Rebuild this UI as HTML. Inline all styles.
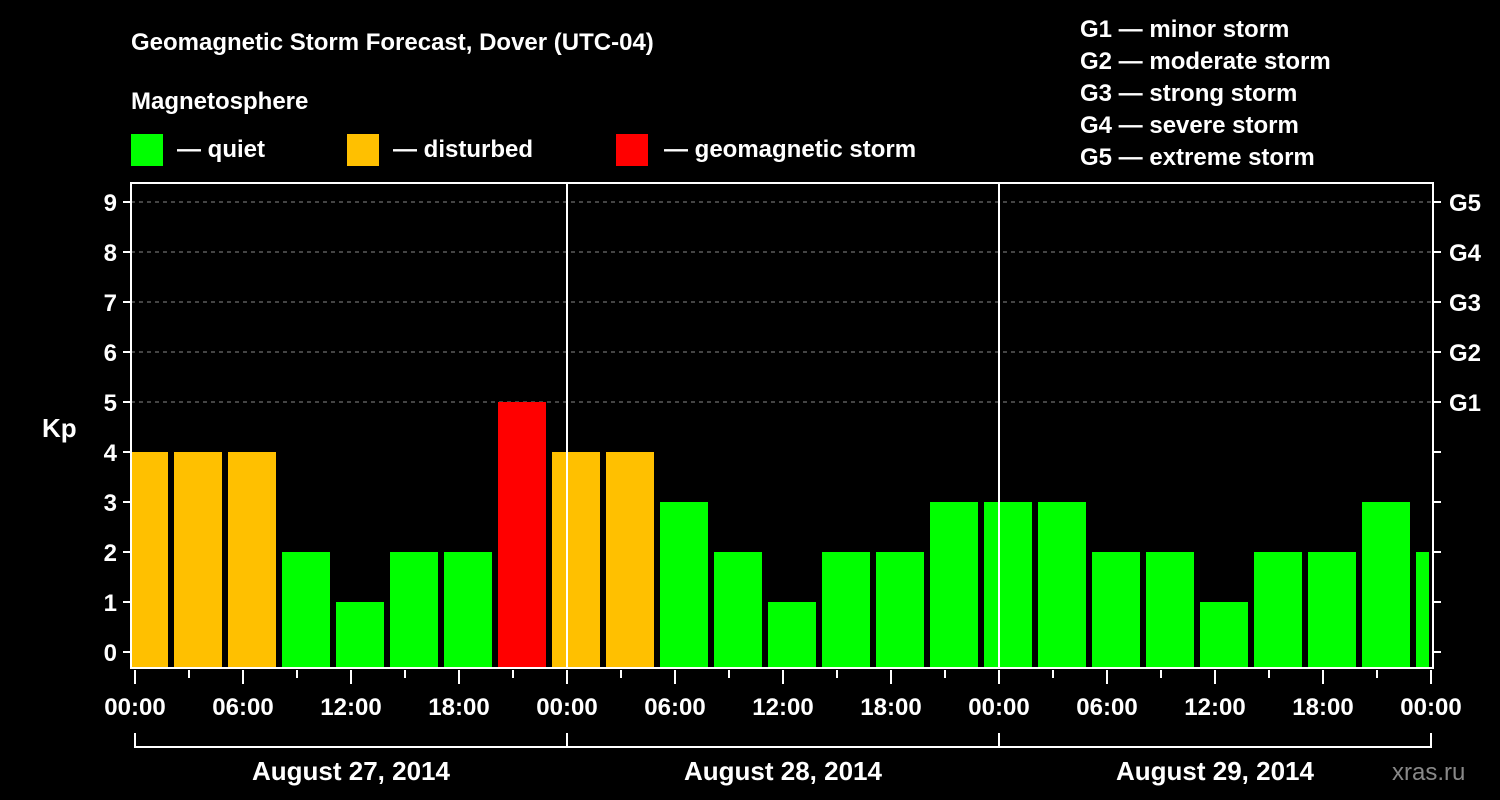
<!DOCTYPE html>
<html><head><meta charset="utf-8"><style>
body{margin:0;background:#000;width:1500px;height:800px;overflow:hidden}
svg{display:block;font-family:"Liberation Sans",sans-serif;font-weight:bold}
</style></head><body>
<svg id="c" width="1500" height="800">
<rect width="1500" height="800" fill="#000"/>
<text x="131" y="50" fill="#fff" font-size="24">Geomagnetic Storm Forecast, Dover (UTC-04)</text>
<text x="131" y="109" fill="#fff" font-size="24">Magnetosphere</text>
<g><rect x="131" y="134" width="32" height="32" fill="#00ff00"/><text x="177" y="157" fill="#fff" font-size="24">— quiet</text></g>
<g><rect x="347" y="134" width="32" height="32" fill="#ffc000"/><text x="393" y="157" fill="#fff" font-size="24">— disturbed</text></g>
<g><rect x="616" y="134" width="32" height="32" fill="#ff0000"/><text x="664" y="157" fill="#fff" font-size="24">— geomagnetic storm</text></g>
<g fill="#fff" font-size="24">
<text x="1080" y="37">G1 — minor storm</text>
<text x="1080" y="69">G2 — moderate storm</text>
<text x="1080" y="101">G3 — strong storm</text>
<text x="1080" y="133">G4 — severe storm</text>
<text x="1080" y="165">G5 — extreme storm</text>
</g>
<text x="42" y="437" fill="#fff" font-size="26">Kp</text>
<text x="1392" y="780" fill="#888" font-size="24" font-weight="normal">xras.ru</text>
<defs><clipPath id="pc"><rect x="131" y="183" width="1298" height="485"/></clipPath></defs>
<g id="grid"></g><g id="bars" clip-path="url(#pc)"></g><g id="axes"></g>
</svg>
<script>
const kpValues=[4,4,4,2,1,2,2,5,4,4,3,2,1,2,2,3,3,3,2,2,1,2,2,3,2];
const yTicks=[0,1,2,3,4,5,6,7,8,9];
const gLabels=["G1","G2","G3","G4","G5"];
const gLevels=[5,6,7,8,9];
const xTickLabels=["00:00","06:00","12:00","18:00","00:00","06:00","12:00","18:00","00:00","06:00","12:00","18:00","00:00"];
const dayLabels=["August 27, 2014","August 28, 2014","August 29, 2014"];
const NS="http://www.w3.org/2000/svg";
const X0=135,PXH=18,Y0=652,PXU=50,L=131,R=1433,T=183,B=668;
const x=h=>X0+h*PXH, y=v=>Y0-v*PXU;
function mk(p,t,a,txt){const e=document.createElementNS(NS,t);for(const k in a)e.setAttribute(k,a[k]);if(txt!=null)e.textContent=txt;p.appendChild(e);return e;}
const grid=document.getElementById('grid'),bars=document.getElementById('bars'),axes=document.getElementById('axes');
gLevels.forEach(v=>{const l=mk(grid,'line',{x1:L,x2:R,y1:y(v),y2:y(v),stroke:'#888','stroke-dasharray':'4,4'});

});
kpValues.forEach((v,i)=>{const c=x(0.5+3*i);const col=v>=5?'#ff0000':v>=4?'#ffc000':'#00ff00';
const r=mk(bars,'rect',{x:c-24,width:48,y:y(v),height:B-1-y(v),fill:col});

});
[1,2].forEach(d=>{const l=mk(axes,'line',{x1:x(24*d),x2:x(24*d),y1:T,y2:B,stroke:'#fff','stroke-width':2});

});
const fr=mk(axes,'rect',{x:L,y:T,width:R-L,height:B-T,fill:'none',stroke:'#fff','stroke-width':2});


yTicks.forEach(v=>{mk(axes,'line',{x1:L-8,x2:L,y1:y(v),y2:y(v),stroke:'#fff','stroke-width':2});
mk(axes,'line',{x1:R,x2:R+8,y1:y(v),y2:y(v),stroke:'#fff','stroke-width':2});
const t=mk(axes,'text',{x:L-14,y:y(v)+9,fill:'#fff','font-size':24,'text-anchor':'end'},v);

});
gLabels.forEach((g,i)=>{const t=mk(axes,'text',{x:R+16,y:y(gLevels[i])+9,fill:'#fff','font-size':24},g);

});
for(let h=0;h<=72;h+=3){mk(axes,'line',{x1:x(h),x2:x(h),y1:B+2,y2:B+(h%6==0?16:10),stroke:'#fff','stroke-width':2});}
xTickLabels.forEach((s,i)=>{const t=mk(axes,'text',{x:x(6*i),y:715,fill:'#fff','font-size':24,'text-anchor':'middle'},s);

});
mk(axes,'path',{d:`M${x(0)},733V747H${x(72)}V733M${x(24)},733V747M${x(48)},733V747`,stroke:'#fff','stroke-width':2,fill:'none'});
dayLabels.forEach((s,i)=>{const t=mk(axes,'text',{x:x(24*i+12),y:780,fill:'#fff','font-size':26,'text-anchor':'middle'},s);

});
</script>
</body></html>
